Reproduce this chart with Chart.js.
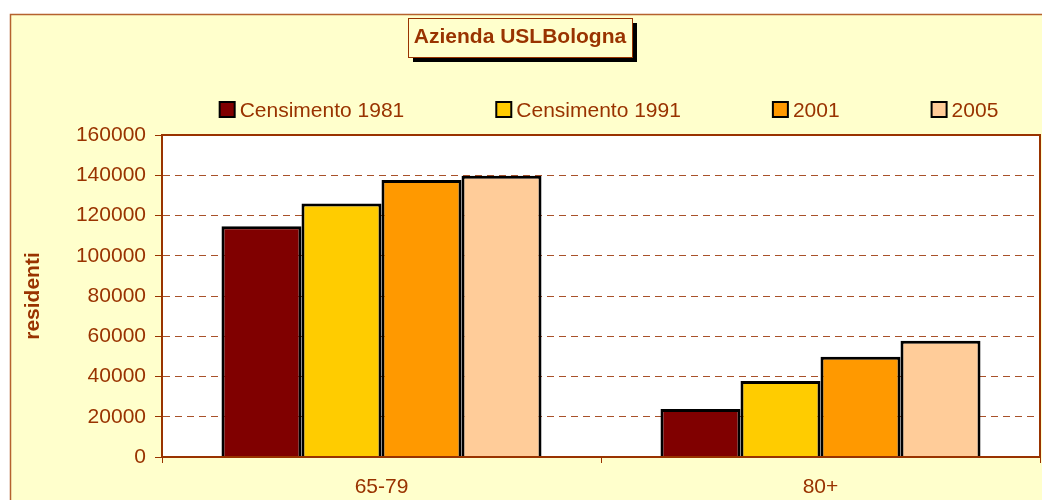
<!DOCTYPE html>
<html>
<head>
<meta charset="utf-8">
<script src="https://cdn.jsdelivr.net/npm/chart.js@4/dist/chart.umd.min.js"></script>
<style>
  body { margin: 0; background: #fff; }
  canvas { display: block; }
</style>
</head>
<body>
<canvas id="chart" width="1042" height="500"></canvas>
<script>
// data
const ageGroups = ['65-79', '80+'];
const seriesNames = ['Censimento 1981', 'Censimento 1991', '2001', '2005'];
const census1981 = [114600, 23900];
const census1991 = [126000, 37800];
const year2001 = [137600, 49800];
const year2005 = [139800, 57800];
const yTicks = [0, 20000, 40000, 60000, 80000, 100000, 120000, 140000, 160000];

const brown = '#993300';
const cream = '#FFFFCC';
const fillColors = ['#800000', '#FFCC00', '#FF9900', '#FFCC99'];
const seriesValues = [census1981, census1991, year2001, year2005];

const font = { family: 'Liberation Sans, Arial, sans-serif', size: 21 };

// backgrounds, title box with shadow, plot frame
const framePlugin = {
    id: 'frame',
    beforeDraw(chart) {
        const ctx = chart.ctx;
        const w = chart.width, h = chart.height;
        ctx.save();
        ctx.fillStyle = '#ffffff';
        ctx.fillRect(0, 0, w, h);
        ctx.fillStyle = cream;
        ctx.fillRect(10, 14, w, h);
        ctx.strokeStyle = '#b5622e';
        ctx.lineWidth = 1.5;
        ctx.strokeRect(10.5, 14.5, w, h);

        // plot area
        const a = chart.chartArea;
        ctx.fillStyle = '#ffffff';
        ctx.fillRect(a.left, a.top, a.right - a.left, a.bottom - a.top);

        // title box
        const tb = chart.titleBlock;
        ctx.font = 'bold 21px ' + font.family;
        const tw = ctx.measureText(chart.options.plugins.title.text).width;
        const cx = (tb.left + tb.right) / 2;
        const bx = Math.round(cx - tw / 2 - 6), by = 18;
        const bw = Math.round(tw + 12), bh = 39;
        ctx.fillStyle = '#000';
        ctx.fillRect(bx + 5, by + 5, bw, bh);
        ctx.fillStyle = cream;
        ctx.fillRect(bx, by, bw, bh);
        ctx.strokeStyle = brown;
        ctx.lineWidth = 1;
        ctx.strokeRect(bx + 0.5, by + 0.5, bw, bh);
        ctx.restore();
    },
    afterDatasetsDraw(chart) {
        const ctx = chart.ctx;
        const a = chart.chartArea;
        ctx.save();
        ctx.strokeStyle = brown;
        ctx.lineWidth = 2;
        ctx.strokeRect(a.left, a.top, a.right - a.left, a.bottom - a.top);
        ctx.restore();
    },
    afterDraw(chart) {
        // legend row above the plot
        const ctx = chart.ctx;
        const a = chart.chartArea;
        ctx.save();
        ctx.font = font.size + 'px ' + font.family;
        ctx.textBaseline = 'middle';
        ctx.textAlign = 'left';
        const gap = 92;
        const items = chart.data.datasets.map(ds => ({
            text: ds.label, color: ds.backgroundColor,
            w: 20 + ctx.measureText(ds.label).width
        }));
        const total = items.reduce((s, it) => s + it.w, 0) + gap * (items.length - 1);
        let x = (a.left + a.right) / 2 + 8 - total / 2;
        const y = 110;
        items.forEach(it => {
            ctx.fillStyle = it.color;
            ctx.fillRect(x, y - 8, 15, 15);
            ctx.strokeStyle = '#000';
            ctx.lineWidth = 2;
            ctx.strokeRect(x, y - 8, 15, 15);
            ctx.fillStyle = brown;
            ctx.fillText(it.text, x + 20, y + 1);
            x += it.w + gap;
        });
        ctx.restore();
    }
};

const ctx = document.getElementById('chart').getContext('2d');
new Chart(ctx, {
    type: 'bar',
    data: {
        labels: ageGroups,
        datasets: seriesNames.map((name, i) => ({
            label: name,
            data: seriesValues[i],
            backgroundColor: fillColors[i],
            borderColor: '#000000',
            borderWidth: 3,
            barPercentage: 1,
            categoryPercentage: 0.729
        }))
    },
    options: {
        responsive: false,
        animation: false,
        layout: { padding: { top: 0, right: 2, bottom: 0, left: 0 } },
        scales: {
            x: {
                afterFit: s => { s.height = 43; },
                grid: {
                    drawOnChartArea: false,
                    drawTicks: true,
                    tickLength: 6,
                    color: brown,
                    lineWidth: 1
                },
                border: { display: true, color: brown, width: 2 },
                ticks: { color: brown, font: font, padding: 12 }
            },
            y: {
                min: 0,
                max: 160000,
                afterFit: s => { s.width = 162; },
                afterBuildTicks: s => { s.ticks = yTicks.map(v => ({ value: v })); },
                grid: {
                    color: '#a8512a',
                    lineWidth: 1,
                    tickLength: 7,
                    tickColor: brown,
                    tickBorderDash: []
                },
                border: { display: true, color: brown, width: 2, dash: [7, 5] },
                ticks: {
                    color: brown,
                    font: font,
                    padding: 9,
                    callback: v => String(v)
                },
                title: {
                    display: true,
                    text: 'residenti',
                    color: brown,
                    font: { family: font.family, size: 21, weight: 'bold' },
                    padding: { top: 21, bottom: 0 }
                }
            }
        },
        plugins: {
            legend: { display: false },
            tooltip: { enabled: false },
            title: {
                display: true,
                text: 'Azienda USLBologna',
                color: brown,
                font: { family: font.family, size: 21, weight: 'bold' },
                padding: { top: 25, bottom: 84.8 }
            }
        }
    },
    plugins: [framePlugin]
});
</script>
</body>
</html>
